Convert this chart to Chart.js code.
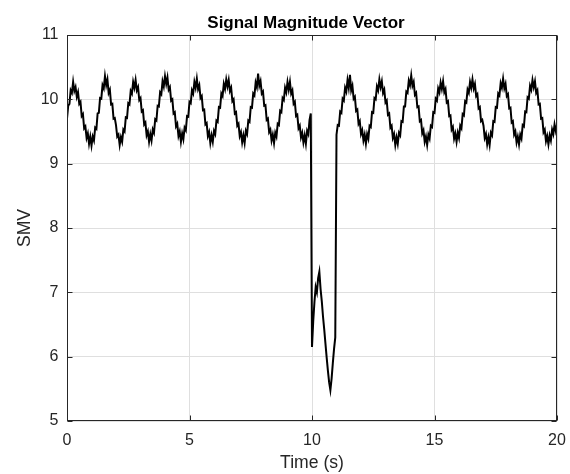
<!DOCTYPE html>
<html>
<head>
<meta charset="utf-8">
<script src="https://cdn.jsdelivr.net/npm/chart.js@4/dist/chart.umd.min.js"></script>
<style>
  body { margin: 0; background: #fff; }
  #wrap { width: 570px; height: 474px; }
</style>
</head>
<body>
<div id="wrap"><canvas id="smvChart" width="570" height="474"></canvas></div>
<script>
// sample spacing of the recorded signal (s)
const SAMPLE_DT = 0.05;

// SMV samples, one row per second (20 samples)
const smv = [
  9.70, 9.90, 9.93, 10.14, 10.10, 10.27, 10.13, 10.19, 10.04, 10.11, 9.93, 9.96, 9.74, 9.77, 9.55, 9.58, 9.40, 9.47, 9.31, 9.42,
  9.28, 9.42, 9.36, 9.56, 9.54, 9.78, 9.79, 10.02, 10.01, 10.22, 10.17, 10.36, 10.22, 10.31, 10.10, 10.15, 9.92, 9.93, 9.70, 9.71,
  9.60, 9.42, 9.45, 9.29, 9.41, 9.34, 9.53, 9.50, 9.72, 9.71, 9.94, 9.92, 10.13, 10.09, 10.27, 10.18, 10.30, 10.14, 10.19, 9.99,
  10.02, 9.81, 9.83, 9.61, 9.64, 9.44, 9.50, 9.34, 9.46, 9.36, 9.53, 9.48, 9.69, 9.67, 9.90, 9.89, 10.11, 10.08, 10.28, 10.20,
  10.36, 10.24, 10.34, 10.15, 10.19, 9.98, 10.00, 9.78, 9.80, 9.58, 9.62, 9.43, 9.50, 9.34, 9.47, 9.38, 9.56, 9.52, 9.74, 9.73,
  9.96, 9.94, 10.14, 10.09, 10.27, 10.18, 10.32, 10.16, 10.22, 10.02, 10.05, 9.83, 9.84, 9.61, 9.63, 9.43, 9.49, 9.32, 9.44, 9.34,
  9.51, 9.46, 9.67, 9.65, 9.88, 9.87, 10.09, 10.05, 10.24, 10.16, 10.31, 10.20, 10.30, 10.13, 10.18, 9.97, 10.00, 9.78, 9.80, 9.59,
  9.62, 9.43, 9.49, 9.33, 9.44, 9.32, 9.51, 9.46, 9.67, 9.65, 9.88, 9.87, 10.09, 10.06, 10.26, 10.19, 10.40, 10.21, 10.28, 10.09,
  10.12, 9.90, 9.91, 9.68, 9.70, 9.49, 9.53, 9.36, 9.45, 9.32, 9.48, 9.42, 9.62, 9.60, 9.82, 9.80, 10.02, 9.99, 10.18, 10.11,
  10.27, 10.15, 10.27, 10.09, 10.14, 9.93, 9.96, 9.74, 9.76, 9.55, 9.59, 9.41, 9.48, 9.33, 9.44, 9.31, 9.51, 9.46, 9.68, 9.78,
  // fall event (10 - 11 s)
  6.15, 6.55, 6.85, 7.08, 7.00, 7.22, 7.32, 7.05, 6.86, 6.62, 6.42, 6.20, 5.98, 5.78, 5.60, 5.48, 5.66, 5.90, 6.12, 6.30,
  9.45, 9.60, 9.59, 9.81, 9.79, 10.01, 9.98, 10.18, 10.12, 10.30, 10.18, 10.38, 10.14, 10.21, 10.01, 10.04, 9.82, 9.84, 9.62, 9.66,
  9.46, 9.52, 9.36, 9.45, 9.31, 9.46, 9.39, 9.59, 9.57, 9.80, 9.79, 10.02, 10.00, 10.20, 10.14, 10.31, 10.19, 10.28, 10.10, 10.15,
  9.95, 9.98, 9.76, 9.78, 9.56, 9.59, 9.40, 9.46, 9.29, 9.41, 9.31, 9.48, 9.44, 9.66, 9.65, 9.89, 9.89, 10.12, 10.10, 10.29,
  10.22, 10.37, 10.21, 10.27, 10.07, 10.10, 9.88, 9.89, 9.66, 9.68, 9.47, 9.52, 9.34, 9.42, 9.29, 9.45, 9.39, 9.59, 9.57, 9.80,
  9.79, 10.01, 9.98, 10.17, 10.11, 10.26, 10.16, 10.28, 10.11, 10.16, 9.95, 9.97, 9.74, 9.75, 9.53, 9.57, 9.39, 9.47, 9.34, 9.48,
  9.40, 9.59, 9.55, 9.77, 9.75, 9.97, 9.95, 10.15, 10.10, 10.27, 10.18, 10.31, 10.17, 10.24, 10.05, 10.08, 9.86, 9.88, 9.66, 9.68,
  9.59, 9.40, 9.46, 9.30, 9.41, 9.29, 9.48, 9.44, 9.66, 9.65, 9.88, 9.87, 10.09, 10.06, 10.25, 10.18, 10.32, 10.17, 10.24, 10.05,
  10.08, 9.86, 9.87, 9.64, 9.66, 9.45, 9.50, 9.33, 9.42, 9.30, 9.45, 9.39, 9.60, 9.58, 9.81, 9.80, 10.03, 10.01, 10.21, 10.15,
  10.30, 10.19, 10.28, 10.10, 10.14, 9.92, 9.93, 9.70, 9.71, 9.49, 9.53, 9.35, 9.43, 9.30, 9.44, 9.36, 9.53, 9.46, 9.61, 9.51,
  9.60
];

const xTicks = [0, 5, 10, 15, 20];
const yTicks = [5, 6, 7, 8, 9, 10, 11];

const FONT = "'Liberation Sans', Arial, Helvetica, sans-serif";
const AXIS_COLOR = "#262626";

const points = smv.map((v, i) => ({ x: +(i * SAMPLE_DT).toFixed(2), y: v }));

// MATLAB-like box, inward tick marks and title
const boxPlugin = {
  id: "matlabBox",
  afterDatasetsDraw(chart) {
    const { ctx, chartArea: a, scales } = chart;
    const L = Math.round(a.left) + 0.5, R = Math.round(a.right) - 0.5;
    const T = Math.round(a.top) + 0.5, B = Math.round(a.bottom) - 0.5;
    ctx.save();
    ctx.strokeStyle = AXIS_COLOR;
    ctx.lineWidth = 1;
    ctx.beginPath();
    xTicks.forEach((v) => {
      const px = Math.round(scales.x.getPixelForValue(v)) + 0.5;
      ctx.moveTo(px, B); ctx.lineTo(px, B - 5);
      ctx.moveTo(px, T); ctx.lineTo(px, T + 5);
    });
    yTicks.forEach((v) => {
      const py = Math.round(scales.y.getPixelForValue(v)) + 0.5;
      ctx.moveTo(L, py); ctx.lineTo(L + 5, py);
      ctx.moveTo(R, py); ctx.lineTo(R - 5, py);
    });
    ctx.stroke();
    ctx.strokeRect(L, T, R - L, B - T);

    ctx.fillStyle = "#000";
    ctx.font = "bold 17px " + FONT;
    ctx.textAlign = "center";
    ctx.textBaseline = "middle";
    ctx.fillText("Signal Magnitude Vector", 306, 23);
    ctx.restore();
  },
};

const ctx = document.getElementById("smvChart").getContext("2d");
const smvChart = new Chart(ctx, {
  type: "line",
  data: {
    datasets: [
      {
        label: "SMV",
        data: points,
        borderColor: "#000",
        borderWidth: 2,
        pointRadius: 0,
        tension: 0,
      },
    ],
  },
  options: {
    responsive: false,
    animation: false,
    layout: { padding: { top: 35, right: 13, left: 0, bottom: 0 } },
    plugins: {
      legend: { display: false },
      tooltip: { enabled: false },
    },
    scales: {
      x: {
        type: "linear",
        min: 0,
        max: 20,
        afterBuildTicks: (s) => { s.ticks = xTicks.map((v) => ({ value: v })); },
        afterFit: (s) => { s.height = 53; s.paddingLeft = 0; s.paddingRight = 0; },
        grid: { color: "#dfdfdf", drawTicks: false },
        border: { display: false },
        ticks: { color: AXIS_COLOR, font: { family: FONT, size: 16 }, padding: 10, maxRotation: 0 },
        title: { display: true, text: "Time (s)", color: AXIS_COLOR, font: { family: FONT, size: 17.6 }, padding: { top: 2, bottom: 0 } },
      },
      y: {
        min: 5,
        max: 11,
        afterBuildTicks: (s) => { s.ticks = yTicks.map((v) => ({ value: v })); },
        afterFit: (s) => { s.width = 67; s.paddingTop = 0; s.paddingBottom = 0; },
        grid: { color: "#dfdfdf", drawTicks: false },
        border: { display: false },
        ticks: { color: AXIS_COLOR, font: { family: FONT, size: 16 }, padding: 8.5 },
        title: { display: true, text: "SMV", color: AXIS_COLOR, font: { family: FONT, size: 17.6 }, padding: { top: 15, bottom: 0 } },
      },
    },
  },
  plugins: [boxPlugin],
});
</script>
</body>
</html>
